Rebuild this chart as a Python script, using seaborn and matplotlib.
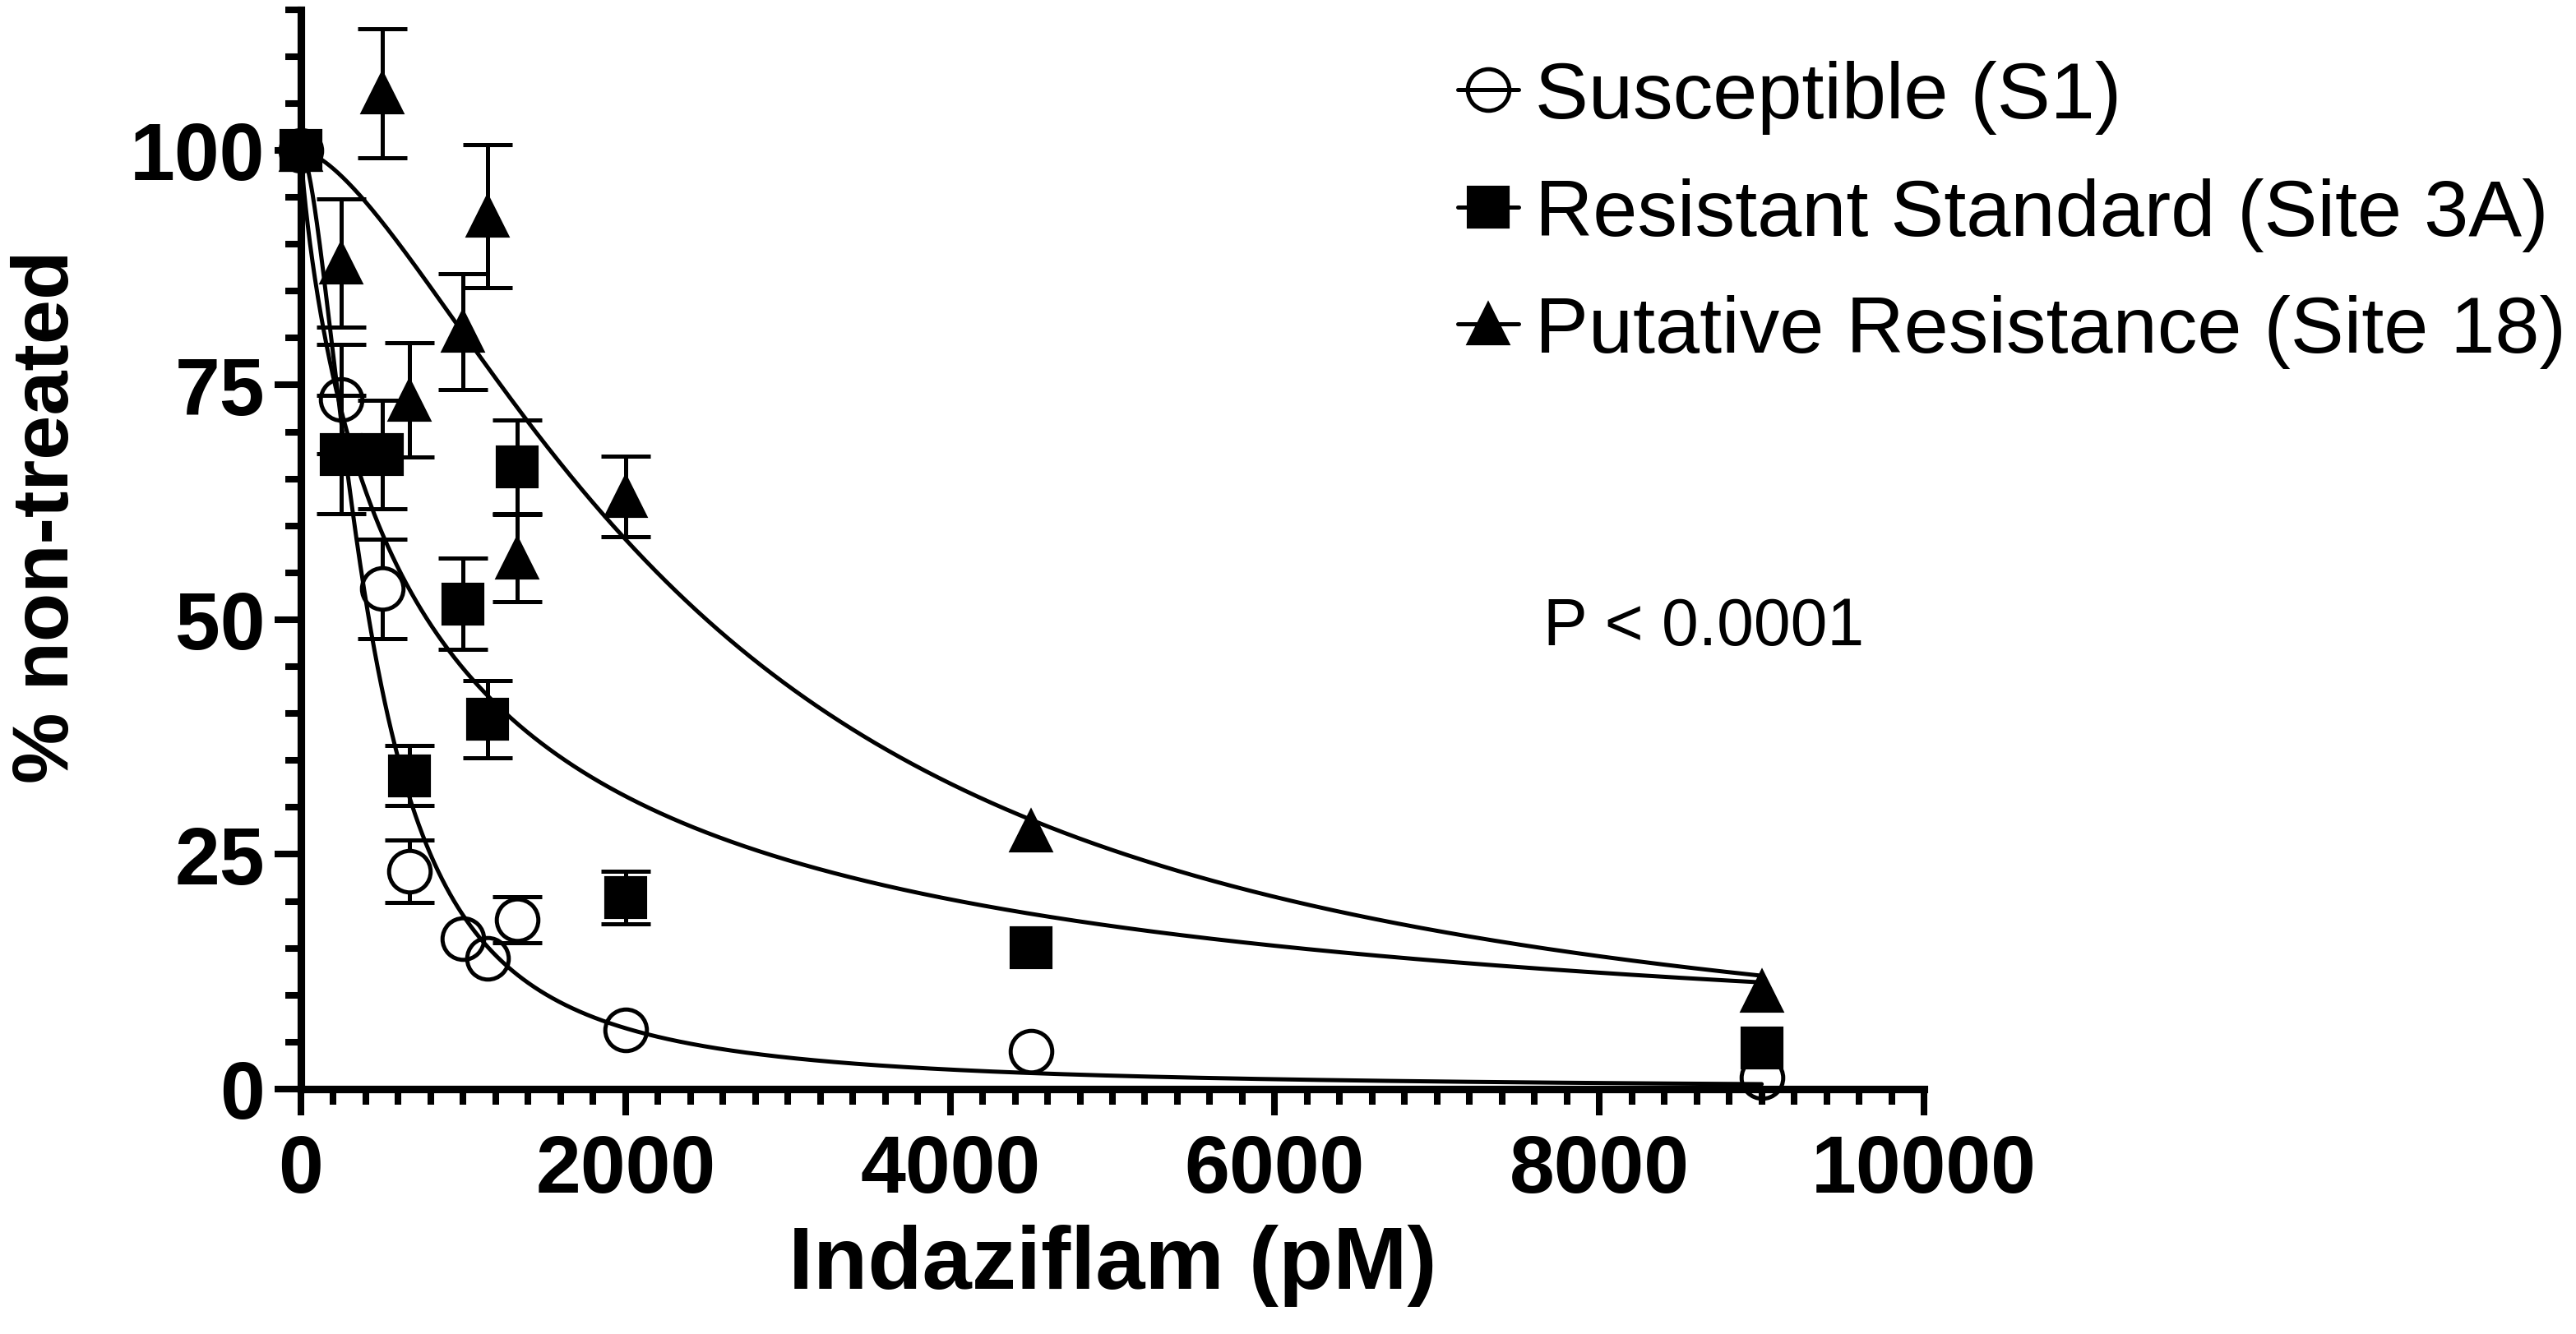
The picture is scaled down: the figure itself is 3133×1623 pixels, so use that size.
import numpy as np
import pandas as pd
import seaborn as sns
import matplotlib.pyplot as plt
from matplotlib.lines import Line2D
from matplotlib.ticker import MultipleLocator

sns.set_style('ticks')
plt.rcParams['font.family'] = ['Liberation Sans', 'DejaVu Sans']
plt.rcParams['text.color'] = 'black'
plt.rcParams['axes.labelcolor'] = 'black'

## data (% of non-treated, mean and SE)
dose = [0, 250, 500, 667, 1000, 1150, 1333, 2000, 4500, 9000]

s1_mean = [100, 73.5, 53.3, 23.2, 16.0, 13.9, 18.0, 6.3, 4.0, 1.2]
s1_err = [0, 5.8, 5.3, 3.3, 0, 0, 2.45, 0, 0, 0]
r3a_mean = [100, 67.6, 67.6, 33.4, 51.7, 39.4, 66.3, 20.4, 15.1, 4.4]
r3a_err = [0, 6.3, 5.75, 3.2, 4.85, 4.1, 5.0, 2.8, 0, 0]
p18_mean = [100, 88.0, 106.1, 73.4, 80.7, 93.0, 56.6, 63.1, 27.5, 10.4]
p18_err = [0, 6.8, 6.9, 6.1, 6.2, 7.6, 4.65, 4.3, 0, 0]

labels = ['Susceptible (S1)', 'Resistant Standard (Site 3A)', 'Putative Resistance (Site 18)']

## fitted log-logistic curves: (EC50, hill)
fit_s1 = (420, 1.71)
fit_r3a = (780, 0.84)
fit_p18 = (2500, 1.55)

xticks = [0, 2000, 4000, 6000, 8000, 10000]
yticks = [0, 25, 50, 75, 100]


def loglogistic(x, ec50, hill):
    return 100 / (1 + (x / ec50) ** hill)


fig = plt.figure(figsize=(15.665, 8.12), dpi=200)
ax = fig.add_axes([0.1168, 0.1835, 0.6301, 0.8087])

xs = np.linspace(0, 9000, 3000)
curves = pd.concat([pd.DataFrame({'dose': xs, 'resp': loglogistic(xs, *p), 'line': name})
                    for name, p in zip(labels, [fit_s1, fit_r3a, fit_p18])])
sns.lineplot(data=curves, x='dose', y='resp', units='line', estimator=None,
             color='black', linewidth=1.8, ax=ax, zorder=3, legend=False)

d = np.array(dose)
styles = [
    (np.array(s1_mean), np.array(s1_err), dict(marker='o', ms=18.2, mfc='none', mec='black', mew=1.8)),
    (np.array(r3a_mean), np.array(r3a_err), dict(marker='s', ms=17.5, mfc='black', mec='black', mew=1.5)),
    (np.array(p18_mean), np.array(p18_err), dict(marker='^', ms=17.5, mfc='black', mec='black', mew=1.5)),
]

for i, (m, e, st) in enumerate(styles):
    k = e > 0
    ax.errorbar(d[k], m[k], yerr=e[k], fmt='none', ecolor='black', elinewidth=1.8,
                capsize=10.8, capthick=1.8, zorder=2, clip_on=False)
    if i == 0:
        # open circles: keep the error bar out of the symbol
        kk = k & (d != 250)
        ax.plot(d[kk], m[kk], ls='none', marker='o', ms=18.2, mfc='white', mec='none', zorder=2.5)
    ax.plot(d, m, ls='none', zorder=4 + i, clip_on=False, **st)

ax.set_xlim(0, 10000)
ax.set_ylim(0, 115)
ax.set_xticks(xticks, [str(t) for t in xticks], fontweight='bold', fontsize=35.5)
ax.set_yticks(yticks, [str(t) for t in yticks], fontweight='bold', fontsize=35.5)
ax.xaxis.set_minor_locator(MultipleLocator(200))
ax.yaxis.set_minor_locator(MultipleLocator(5))
ax.tick_params(which='major', length=11.4, width=2.9, color='black', labelcolor='black')
ax.tick_params(which='minor', length=7, width=2.9, color='black')
ax.tick_params(axis='x', which='major', pad=8)
ax.tick_params(axis='y', which='major', pad=4.3)
sns.despine(ax=ax)
for sp in ['left', 'bottom']:
    ax.spines[sp].set_linewidth(3.3)
    ax.spines[sp].set_color('black')

ax.set_xlabel('Indaziflam (pM)', fontsize=39, fontweight='bold', color='black')
ax.set_ylabel('% non-treated', fontsize=35, fontweight='bold', color='black')
ax.xaxis.set_label_coords(0.5, -0.125)
ax.yaxis.set_label_coords(-0.133, 0.531)

ax.text(7655, 47.4, 'P < 0.0001', fontsize=29, va='baseline', ha='left', color='black')

handles = [Line2D([], [], color='black', lw=1.8, **st) for _, _, st in styles]
leg = ax.legend(handles, labels, loc='upper left', bbox_to_anchor=(0.713, 0.953), frameon=False,
                fontsize=35, handlelength=0.76, handletextpad=0.2, labelspacing=0.54,
                borderaxespad=0, borderpad=0)
for t in leg.get_texts():
    t.set_color('black')

fig.savefig('out.png', dpi=200)
